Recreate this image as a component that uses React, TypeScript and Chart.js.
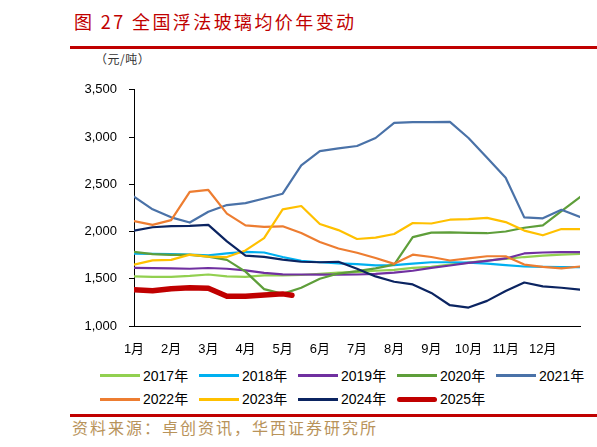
import React, { useEffect, useRef } from "react";
import { Chart, registerables } from "chart.js";

Chart.register(...registerables);

// ---------- data ----------
const MONTH_LABELS = ["1月", "2月", "3月", "4月", "5月", "6月", "7月", "8月", "9月", "10月", "11月", "12月"];
const Y_TICKS = [1000, 1500, 2000, 2500, 3000, 3500];

// positions in months (half-month sampling, 0 = start of January)
const X_HALF = [0, 0.5, 1, 1.5, 2, 2.5, 3, 3.5, 4, 4.5, 5, 5.5, 6, 6.5, 7, 7.5, 8, 8.5, 9, 9.5, 10, 10.5, 11, 11.5, 12];
const X_2025 = [0, 0.5, 1, 1.5, 2, 2.5, 3, 3.5, 4, 4.25];

const V2017 = [1525, 1520, 1520, 1530, 1545, 1525, 1520, 1535, 1536, 1540, 1553, 1565, 1570, 1585, 1595, 1615, 1625, 1650, 1670, 1693, 1710, 1730, 1745, 1755, 1762];
const V2018 = [1765, 1764, 1760, 1757, 1748, 1768, 1785, 1778, 1730, 1690, 1675, 1662, 1655, 1642, 1645, 1660, 1675, 1675, 1670, 1660, 1645, 1630, 1625, 1623, 1623];
const V2019 = [1615, 1613, 1610, 1606, 1614, 1606, 1588, 1562, 1547, 1545, 1543, 1543, 1545, 1552, 1565, 1585, 1615, 1640, 1668, 1690, 1715, 1768, 1778, 1781, 1781];
const V2020 = [1785, 1760, 1752, 1752, 1735, 1700, 1575, 1390, 1340, 1405, 1500, 1555, 1580, 1610, 1650, 1940, 1988, 1990, 1985, 1982, 2000, 2040, 2065, 2215, 2365];
const V2021 = [2370, 2235, 2150, 2095, 2210, 2280, 2300, 2350, 2400, 2700, 2850, 2880, 2905, 2990, 3150, 3157, 3157, 3160, 2990, 2780, 2570, 2150, 2140, 2230, 2155];
const V2022 = [2110, 2070, 2120, 2420, 2440, 2190, 2065, 2050, 2055, 1985, 1890, 1820, 1775, 1720, 1658, 1755, 1730, 1693, 1715, 1738, 1738, 1650, 1625, 1610, 1630];
const V2023 = [1650, 1695, 1700, 1755, 1735, 1730, 1800, 1930, 2235, 2270, 2080, 2015, 1921, 1935, 1974, 2090, 2085, 2125, 2131, 2145, 2100, 2010, 1960, 2026, 2026];
const V2024 = [2010, 2045, 2058, 2060, 2070, 1895, 1745, 1732, 1702, 1680, 1675, 1680, 1605, 1525, 1468, 1440, 1350, 1220, 1195, 1266, 1370, 1460, 1420, 1405, 1385];
const V2025 = [1385, 1372, 1395, 1405, 1400, 1315, 1315, 1328, 1340, 1325];

const SERIES_NAMES = ["2017年", "2018年", "2019年", "2020年", "2021年", "2022年", "2023年", "2024年", "2025年"];
const SERIES_COLORS = ["#92D050", "#00B0F0", "#7030A0", "#5E9E3A", "#4A72A8", "#ED7D31", "#FFC000", "#0B2461", "#C00000"];
const SERIES_WIDTHS = [2.2, 2.2, 2.2, 2.2, 2.2, 2.2, 2.2, 2.2, 5.5];
const SERIES_X = [X_HALF, X_HALF, X_HALF, X_HALF, X_HALF, X_HALF, X_HALF, X_HALF, X_2025];
const SERIES_Y = [V2017, V2018, V2019, V2020, V2021, V2022, V2023, V2024, V2025];

const FONT = "'Liberation Sans', Arial, 'Noto Sans CJK SC', sans-serif";
const CJK = "'Noto Sans CJK SC', 'Liberation Sans', sans-serif";

export default function App() {
  const canvasRef = useRef<HTMLCanvasElement | null>(null);

  useEffect(() => {
    const canvas = canvasRef.current;
    if (!canvas) return;
    const datasets = SERIES_NAMES.map((name, i) => ({
      label: name,
      data: SERIES_Y[i].map((v, j) => ({ x: SERIES_X[i][j], y: v })),
      borderColor: SERIES_COLORS[i],
      backgroundColor: SERIES_COLORS[i],
      borderWidth: SERIES_WIDTHS[i],
      pointRadius: 0,
      tension: 0,
      borderCapStyle: "round" as const,
      borderJoinStyle: "round" as const,
      fill: false,
    })).reverse();

    const chart = new Chart(canvas, {
      type: "line",
      data: { datasets },
      options: {
        animation: false,
        responsive: false,
        maintainAspectRatio: false,
        devicePixelRatio: 1,
        layout: { padding: { left: 0, right: 17, top: 18, bottom: 0 } },
        plugins: { legend: { display: false }, tooltip: { enabled: false } },
        scales: {
          x: {
            type: "linear",
            min: 0,
            max: 12,
            afterBuildTicks: (s: any) => {
              s.ticks = MONTH_LABELS.map((_, i) => ({ value: i }));
            },
            afterFit: (s: any) => {
              s.height = 34;
            },
            grid: { display: false, drawTicks: false },
            border: { display: true, color: "#000", width: 1 },
            ticks: {
              autoSkip: false,
              maxRotation: 0,
              padding: 16,
              color: "#000",
              font: { size: 13, family: FONT },
              callback: (v: any) => MONTH_LABELS[Number(v)] ?? "",
            },
          },
          y: {
            type: "linear",
            min: 1000,
            max: 3500,
            afterBuildTicks: (s: any) => {
              s.ticks = Y_TICKS.map((v) => ({ value: v }));
            },
            afterFit: (s: any) => {
              s.width = 134;
            },
            grid: { drawOnChartArea: false, drawTicks: true, tickLength: 5, color: "#000" },
            border: { display: true, color: "#000", width: 1 },
            ticks: {
              padding: 12,
              color: "#000",
              font: { size: 13, family: FONT },
              callback: (v: any) => Number(v).toLocaleString("en-US"),
            },
          },
        },
      },
    });
    return () => chart.destroy();
  }, []);

  const legendRows = [SERIES_NAMES.slice(0, 5), SERIES_NAMES.slice(5)];

  return (
    <div style={{ position: "absolute", left: 0, top: 0, width: 597, height: 447, background: "#fff", overflow: "hidden" }}>
      <div
        style={{
          position: "absolute",
          left: 74,
          top: 11,
          fontSize: 18,
          lineHeight: "20px",
          letterSpacing: 2.4,
          color: "#C00000",
          fontFamily: CJK,
          whiteSpace: "nowrap",
        }}
      >
        图 27 全国浮法玻璃均价年变动
      </div>
      <div style={{ position: "absolute", left: 70, top: 46, width: 527, height: 3, background: "#C00000" }} />
      <div
        style={{
          position: "absolute",
          left: 95,
          top: 52,
          fontSize: 12,
          lineHeight: "14px",
          letterSpacing: 0.5,
          color: "#333",
          fontFamily: CJK,
          whiteSpace: "nowrap",
        }}
      >
        （元/吨）
      </div>
      <canvas
        ref={canvasRef}
        width={597}
        height={290}
        style={{ position: "absolute", left: 0, top: 70, width: 597, height: 290 }}
      />
      {legendRows.map((row, r) =>
        row.map((name, c) => {
          const idx = r * 5 + c;
          const isBold = SERIES_WIDTHS[idx] > 3;
          return (
            <div
              key={name}
              style={{
                position: "absolute",
                left: 100 + c * 99,
                top: (r === 0 ? 375.7 : 399) - 9,
                height: 18,
                display: "flex",
                alignItems: "center",
                whiteSpace: "nowrap",
              }}
            >
              <span
                style={{
                  display: "inline-block",
                  width: 40,
                  height: isBold ? 5 : 3,
                  borderRadius: isBold ? 3 : 0,
                  background: SERIES_COLORS[idx],
                  marginRight: 3,
                }}
              />
              <span style={{ fontSize: 14, lineHeight: "18px", color: "#000", fontFamily: FONT }}>{name}</span>
            </div>
          );
        })
      )}
      <div style={{ position: "absolute", left: 70, top: 414, width: 527, height: 3, background: "#C00000" }} />
      <div
        style={{
          position: "absolute",
          left: 72,
          top: 418,
          fontSize: 16,
          lineHeight: "18px",
          letterSpacing: 2,
          color: "#B8935A",
          fontFamily: CJK,
          whiteSpace: "nowrap",
        }}
      >
        资料来源：卓创资讯，华西证券研究所
      </div>
    </div>
  );
}
